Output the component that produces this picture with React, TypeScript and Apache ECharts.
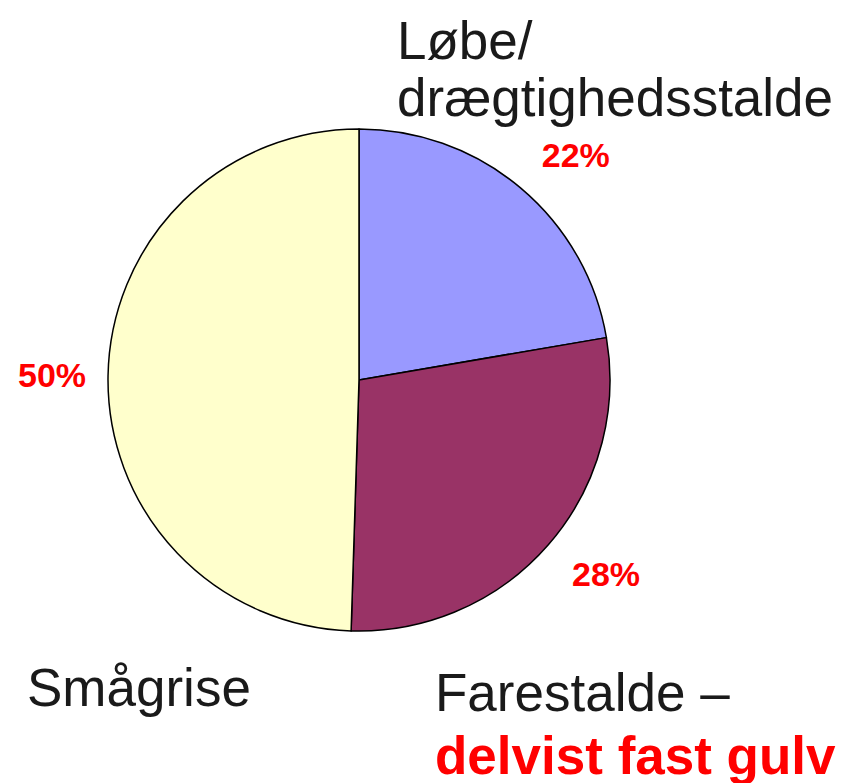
import React, { useEffect, useRef } from "react";
import * as echarts from "echarts";

const categories = ["Løbe/drægtighedsstalde", "Farestalde – delvist fast gulv", "Smågrise"];
const values = [22.3, 28.2, 49.5];
const percentLabels = ["22%", "28%", "50%"];
const colors = ["#9999FF", "#993366", "#FFFFCC"];

export default function App() {
  const ref = useRef<HTMLDivElement>(null);
  useEffect(() => {
    if (!ref.current) return;
    const chart = echarts.init(ref.current, undefined, { renderer: "svg" });
    const font = "Liberation Sans, Arial, sans-serif";
    const labelOffsets = [[15, 14], [11, -12], [6, 0]];
    const data = categories.map((name, i) => ({ name, value: values[i] }));
    chart.setOption({
      animation: false,
      backgroundColor: "#ffffff",
      series: [
        {
          type: "pie",
          center: [359, 380],
          radius: 251,
          startAngle: 90,
          clockwise: true,
          silent: true,
          data: data.map((d, i) => ({
            ...d,
            itemStyle: { color: colors[i], borderColor: "#000000", borderWidth: 1.5 },
          })),
          label: { show: false },
          labelLine: { show: false },
        },
        {
          type: "pie",
          center: [359, 380],
          radius: [300, 320],
          startAngle: 90,
          clockwise: true,
          silent: true,
          data: data.map((d, i) => ({
            ...d,
            itemStyle: { color: "rgba(0,0,0,0)", borderWidth: 0 },
            label: { offset: labelOffsets[i] },
          })),
          label: {
            show: true,
            position: "inside",
            rotate: 0,
            formatter: (p: any) => percentLabels[p.dataIndex],
            color: "#FF0000",
            fontWeight: "bold",
            fontSize: 34,
            fontFamily: font,
          },
          labelLine: { show: false },
        },
      ],
      graphic: [
        { type: "text", left: 397, top: 14, style: { text: "Løbe/", fontSize: 53, fontFamily: font, fill: "#1a1a1a" } },
        { type: "text", x: 397, y: 97, style: { text: "drægtighedsstalde", fontSize: 53, fontFamily: font, fill: "#1a1a1a", verticalAlign: "middle" } },
        { type: "text", x: 27, y: 687, style: { text: "Smågrise", fontSize: 53, fontFamily: font, fill: "#1a1a1a", verticalAlign: "middle" } },
        { type: "text", x: 435, y: 692, style: { text: "Farestalde –", fontSize: 53, fontFamily: font, fill: "#1a1a1a", verticalAlign: "middle" } },
        { type: "text", x: 435, y: 755, style: { text: "delvist fast gulv", fontSize: 53, fontWeight: "bold", fontFamily: font, fill: "#FF0000", verticalAlign: "middle" } },
      ],
    });
    return () => chart.dispose();
  }, []);
  return <div ref={ref} style={{ position: "fixed", left: 0, top: 0, width: 842, height: 783 }} />;
}
